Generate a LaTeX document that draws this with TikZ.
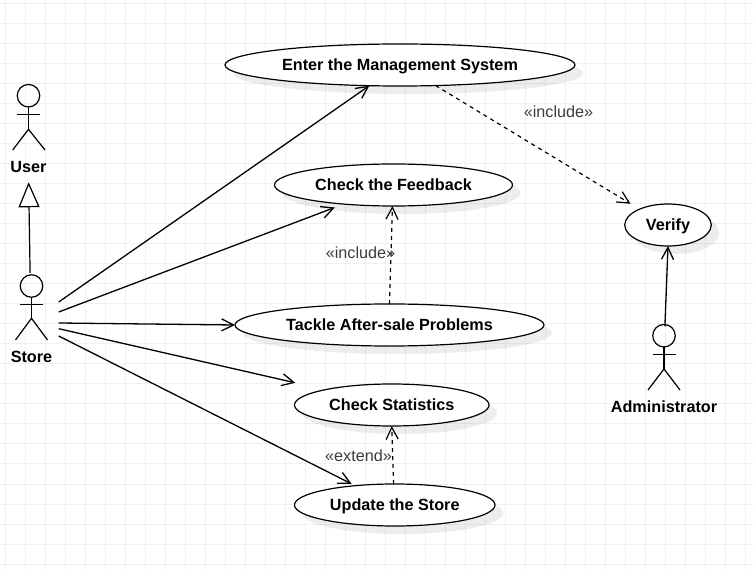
\documentclass[tikz,border=0pt]{standalone}
\usepackage{fontspec}
\setmainfont{Liberation Sans}
\usepackage{xcolor}
\usetikzlibrary{arrows.meta,shapes.geometric,shadows}
\definecolor{gridgray}{RGB}{240,240,240}
\definecolor{taggray}{RGB}{60,60,60}

\begin{document}
\begin{tikzpicture}[
  x=1pt, y=-1pt,
  gridline/.style={draw=gridgray, line width=1pt},
  usecase/.style={ellipse, draw, line width=1.2pt, fill=white, inner sep=0pt, outer sep=0pt,
                  minimum height=42pt, text height=12.8pt, text depth=1.6pt,
                  font=\fontsize{16.2}{18}\selectfont\bfseries,
                  drop shadow={shadow xshift=8pt, shadow yshift=-8pt, fill=black, opacity=0.07}},
  head/.style={circle, draw, line width=1.2pt, inner sep=0pt, outer sep=0pt, minimum size=22.5pt},
  limb/.style={line width=1.2pt},
  actorname/.style={font=\fontsize{16.2}{18}\selectfont\bfseries, inner sep=0pt, anchor=base},
  stereo/.style={font=\fontsize{16.2}{18}\selectfont, text=taggray, inner sep=0pt, anchor=base},
  assoc/.style={-{Straight Barb[length=12pt, width=12pt]}, line width=1.3pt},
  depend/.style={-{Straight Barb[length=12pt, width=12pt]}, line width=1.2pt, dash pattern=on 4pt off 4pt},
  general/.style={-{Triangle[open, fill=white, length=25pt, width=21pt]}, line width=1.2pt},
]
  \useasboundingbox (0,0) rectangle (753,569);

  % ---- Background grid ----
  \foreach \x in {5,25,...,745} \draw[gridline] (\x,0) -- (\x,569);
  \foreach \y in {4,24,...,564} \draw[gridline] (0,\y) -- (753,\y);

  % ---- Use cases ----
  \node[usecase, minimum width=350pt] (enter) at (400,65) {Enter the Management System};
  \node[usecase, minimum width=238pt] (feedback) at (393.5,185) {Check the Feedback};
  \node[usecase, minimum width=309pt] (tackle) at (389.5,325) {Tackle After-sale Problems};
  \node[usecase, minimum width=194.5pt] (statistics) at (391.75,405) {Check Statistics};
  \node[usecase, minimum width=200.5pt] (update) at (394.75,505) {Update the Store};
  \node[usecase, minimum width=86.5pt] (verify) at (668,225) {Verify};

  % ---- Actors ----
  \node[head] (userhead) at (28.5,95.7) {};
    \draw[limb] (17,114.3) -- (40,114.3);                % arms
    \draw[limb] (28.5,107) -- (28.5,129.3);              % body
    \draw[limb] (12.7,150) -- (28.5,129.3) -- (45,150);  % legs
    \node[actorname] (userlabel) at (28.5,172.4) {User};
  \node[head] (storehead) at (31.5,286) {};
    \draw[limb] (20,304.7) -- (43,304.7);
    \draw[limb] (31.5,297.3) -- (31.5,318.3);
    \draw[limb] (15.5,340) -- (31.5,318.3) -- (47.5,340);
    \node[actorname] (storelabel) at (31.5,362.4) {Store};
  \node[head] (adminhead) at (664,335.7) {};
    \draw[limb] (652.5,354.3) -- (675.5,354.3);
    \draw[limb] (664,347) -- (664,369);
    \draw[limb] (648,390) -- (664,369) -- (680,390);
    \node[actorname] (adminlabel) at (664,412.4) {Administrator};

  % ---- Free ends beside the store actor ----
  \coordinate (storeA) at (58.7,302);
  \coordinate (storeB) at (58.7,312);
  \coordinate (storeC) at (58.7,323);
  \coordinate (storeD) at (58.7,328.7);
  \coordinate (storeE) at (58.7,336);

  % ---- Arrows (store to use cases) ----
  \draw[assoc] (storeA) -- (enter.214.6);
  \draw[assoc, shorten >=9.6pt] (storeB) -- (feedback.201);
  \draw[assoc] (storeC) -- (tackle.west);
  \draw[assoc, shorten >=30.8pt] (storeD) -- (statistics.167.3);
  \draw[assoc, shorten >=4pt] (storeE) -- (update.154.5);

  % ---- Arrows (generalisation and administrator) ----
  \draw[general, shorten <=2pt, shorten >=9.5pt] (storehead.97) -- (userlabel.south);
  \draw[assoc, shorten <=-2pt] (adminhead.85) -- (verify.south);

  % ---- Dashed dependencies ----
  \draw[depend, shorten >=10.5pt] (enter.330.3) -- (verify.151);
  \draw[depend] (tackle.north) -- (feedback.267);
  \draw[depend] (update.93) -- (statistics.south);

  % ---- Stereotype labels ----
  \node[stereo] (includeverify) at (558.5,117.4) {«include»};
  \node[stereo] (includefeedback) at (360.5,258.4) {«include»};
  \node[stereo] (extendstore) at (358.5,461.4) {«extend»};
\end{tikzpicture}
\end{document}
